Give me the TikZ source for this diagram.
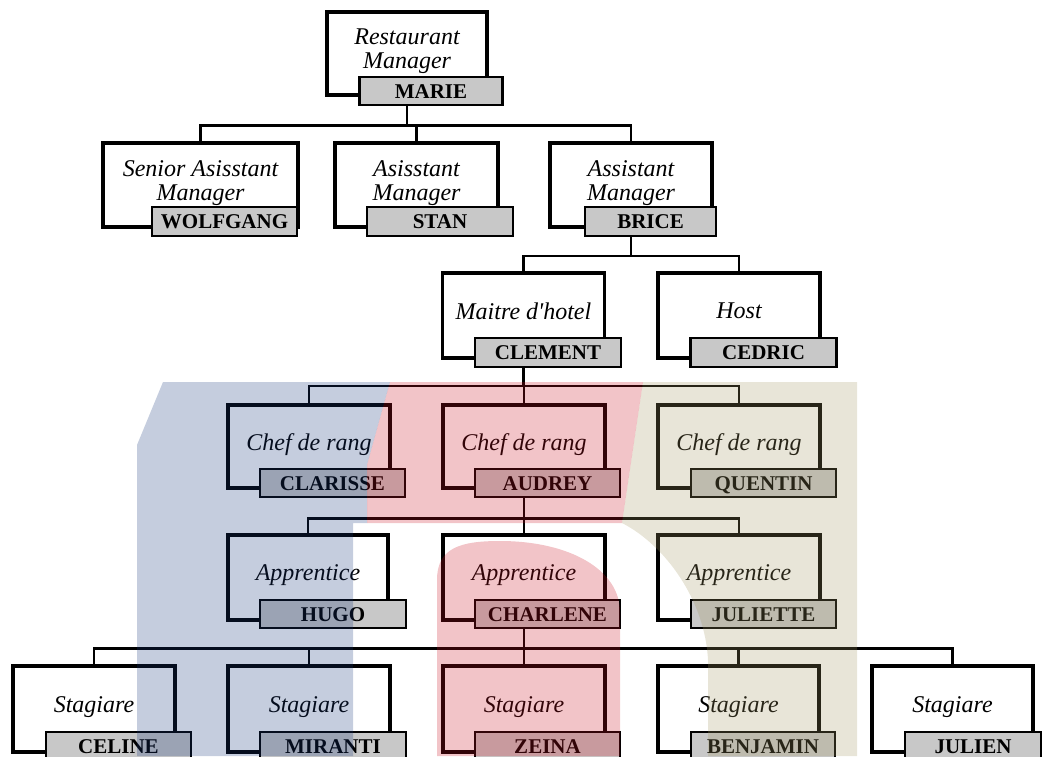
\documentclass[tikz,border=0pt]{standalone}
\usepackage{fontspec}
\setmainfont{Liberation Serif}
\usepackage{tikz}

\definecolor{tagfill}{RGB}{200,200,200}
\definecolor{logoblue}{RGB}{23,55,123}
\definecolor{logored}{RGB}{203,19,35}
\definecolor{logobeige}{RGB}{163,151,99}

\tikzset{
	post/.style={draw=black, line width=3.6pt, minimum width=162pt, minimum height=84pt,
		inner sep=0pt, align=center, text depth=9pt,
		font=\itshape\fontsize{24}{24}\selectfont},
	nametag/.style={draw=black, fill=tagfill, line width=2.4pt, minimum width=146pt,
		minimum height=28.5pt, inner sep=0pt, text height=14pt, text depth=0pt,
		font=\bfseries\fontsize{21}{22}\selectfont},
	link/.style={line width=2.2pt}
}

\begin{document}
\begin{tikzpicture}[x=1pt, y=-1pt]
	
	\useasboundingbox (0,0) rectangle (1043,756);
	
	% level 1
	\node[post, minimum width=160pt, minimum height=83pt] (marie) at (407, 53.5) {Restaurant\\Manager};
	\node[nametag, minimum width=143pt] (marieN) at (431, 91) {MARIE};
	
	% level 2
	\node[post, minimum width=195pt] (wolfgang) at (200.5, 185) {Senior Asisstant\\Manager};
	\node[nametag, minimum width=145pt] (wolfgangN) at (224.5, 221.5) {WOLFGANG};
	\node[post, minimum width=163pt] (stan) at (416.5, 185) {Asisstant\\Manager};
	\node[nametag] (stanN) at (440, 221.5) {STAN};
	\node[post] (brice) at (631, 185) {Assistant\\Manager};
	\node[nametag, minimum width=131pt] (briceN) at (650.5, 221.5) {BRICE};
	
	% level 3
	\node[post, minimum height=85pt] (clement) at (523.5, 315.5) {Maitre d\textquotesingle hotel};
	\node[nametag] (clementN) at (548, 352.5) {CLEMENT};
	\node[post, minimum height=85pt] (cedric) at (739, 315.5) {Host};
	\node[nametag] (cedricN) at (763.5, 352.5) {CEDRIC};
	
	% level 4
	\node[post, minimum height=83pt] (clarisse) at (309, 446.5) {Chef de rang};
	\node[nametag, minimum width=145pt] (clarisseN) at (332.5, 483) {CLARISSE};
	\node[post, minimum height=83pt] (audrey) at (524, 446.5) {Chef de rang};
	\node[nametag, minimum width=145pt] (audreyN) at (547.5, 483) {AUDREY};
	\node[post, minimum height=83pt] (quentin) at (739, 446.5) {Chef de rang};
	\node[nametag, minimum width=145pt] (quentinN) at (763.5, 483) {QUENTIN};
	
	% level 5
	\node[post, minimum width=160pt, minimum height=85pt] (hugo) at (308, 577.5) {Apprentice};
	\node[nametag] (hugoN) at (333, 614) {HUGO};
	\node[post, minimum height=85pt] (charlene) at (524, 577.5) {Apprentice};
	\node[nametag, minimum width=145pt] (charleneN) at (547.5, 614) {CHARLENE};
	\node[post, minimum height=85pt] (juliette) at (739, 577.5) {Apprentice};
	\node[nametag, minimum width=145pt] (julietteN) at (763.5, 614) {JULIETTE};
	
	% level 6
	\node[post, minimum height=86pt] (celine) at (94, 709) {Stagiare};
	\node[nametag, minimum width=145pt] (celineN) at (118.5, 746) {CELINE};
	\node[post, minimum height=86pt] (miranti) at (309, 709) {Stagiare};
	\node[nametag] (mirantiN) at (333, 746) {MIRANTI};
	\node[post, minimum height=86pt] (zeina) at (524, 709) {Stagiare};
	\node[nametag, minimum width=145pt] (zeinaN) at (547.5, 746) {ZEINA};
	\node[post, minimum width=161pt, minimum height=86pt] (benjamin) at (738.5, 709) {Stagiare};
	\node[nametag, minimum width=144pt] (benjaminN) at (763, 746) {BENJAMIN};
	\node[post, minimum width=161pt, minimum height=86pt] (julien) at (952.5, 709) {Stagiare};
	\node[nametag, minimum width=136pt] (julienN) at (973, 746) {JULIEN};
	
	% connectors
	\draw[link] (marie.center |- marieN.south) -- ++(0,19) -| (wolfgang.north);
	\draw[link] (marie.center |- marieN.south) -- ++(0,19) -| (stan.north);
	\draw[link] (marie.center |- marieN.south) -- ++(0,19) -| (brice.north);
	
	\draw[link] (brice.center |- briceN.south) -- ++(0,19) -| (clement.north);
	\draw[link] (brice.center |- briceN.south) -- ++(0,19) -| (cedric.north);
	
	\draw[link] (clement.center |- clementN.south) -- ++(0,18) -| (clarisse.north);
	\draw[link] (clement.center |- clementN.south) -- ++(0,18) -| (audrey.north);
	\draw[link] (clement.center |- clementN.south) -- ++(0,18) -| (quentin.north);
	
	\draw[link] (audrey.center |- audreyN.south) -- ++(0,20) -| (hugo.north);
	\draw[link] (audrey.center |- audreyN.south) -- ++(0,20) -| (charlene.north);
	\draw[link] (audrey.center |- audreyN.south) -- ++(0,20) -| (juliette.north);
	
	\draw[link] (charlene.center |- charleneN.south) -- ++(0,19) -| (celine.north);
	\draw[link] (charlene.center |- charleneN.south) -- ++(0,19) -| (miranti.north);
	\draw[link] (charlene.center |- charleneN.south) -- ++(0,19) -| (zeina.north);
	\draw[link] (charlene.center |- charleneN.south) -- ++(0,19) -| (benjamin.north);
	\draw[link] (charlene.center |- charleneN.south) -- ++(0,19) -| (julien.north);
	
	% logo laid over the chart
	\fill[logoblue, opacity=0.25] (163,382) -- (390,382) -- (367,465) -- (367,523) -- (353,523)
		-- (353,756) -- (137,756) -- (137,445) -- cycle;
	\fill[logored, opacity=0.25] (390,382) -- (643,382) -- (622,523) -- (367,523) -- (367,465) -- cycle;
	\fill[logored, opacity=0.25] (437,756) -- (437,580) .. controls (437,548) and (460,541) .. (500,541)
		.. controls (570,541) and (620,570) .. (620,612) -- (620,756) -- cycle;
	\fill[logobeige, opacity=0.25] (643,382) -- (857,382) -- (857,756) -- (708,756) -- (708,660)
		.. controls (705,600) and (665,545) .. (622,523) -- cycle;
	
\end{tikzpicture}
\end{document}
